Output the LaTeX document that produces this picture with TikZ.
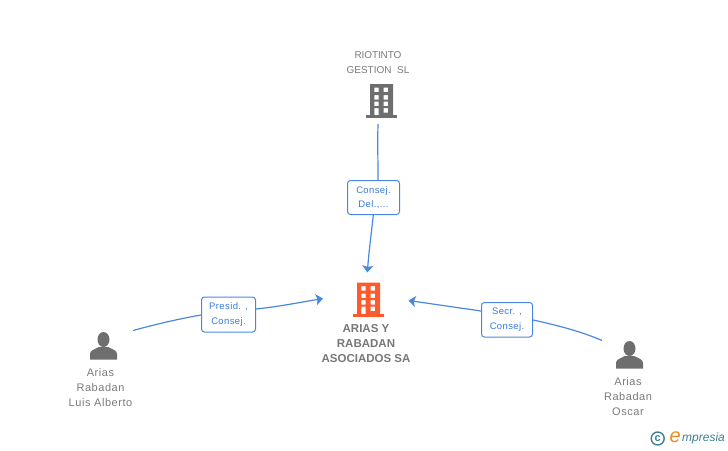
\documentclass[tikz,border=0pt]{standalone}
\usepackage{fontspec}
\setmainfont{Liberation Sans}
\usetikzlibrary{arrows.meta,bending}
\definecolor{greyicon}{HTML}{6E6E6E}
\definecolor{orangeicon}{HTML}{FF5A2C}
\definecolor{linkblue}{HTML}{4A88E0}
\definecolor{labelblue}{HTML}{3A7BD8}
\definecolor{nametext}{HTML}{7A7A7A}
\definecolor{boldtext}{HTML}{777777}
\definecolor{logoteal}{HTML}{3F7F95}
\definecolor{logoorange}{HTML}{F08A1E}
\tikzset{
  x=1pt,y=-1pt,
  rolebox/.style={draw=linkblue,line width=1pt,rounded corners=3pt,fill=white,anchor=north west,inner sep=0pt,
    font=\fontsize{9.5}{15}\selectfont\addfontfeatures{LetterSpace=4},text=labelblue,align=center},
  link/.style={draw=linkblue,line width=1.2pt},
  arrowlink/.style={link,-{Stealth[length=7pt,width=11pt,inset=1.5pt,flex=0]}},
  personname/.style={font=\fontsize{11}{15}\selectfont\addfontfeatures{LetterSpace=5},text=nametext,align=center,inner sep=0pt},
  companyname/.style={font=\fontsize{10}{15}\selectfont,text=nametext,align=center,inner sep=0pt},
  centername/.style={font=\fontsize{11.5}{15}\selectfont\bfseries,text=boldtext,align=center,inner sep=0pt},
  building/.pic={
    \fill[pic actions,even odd rule] (0,0) rectangle (23,33)
      (4.3,3.7) rectangle (8.7,8) (13.5,3.7) rectangle (18,8)
      (4.3,11) rectangle (8.7,15.5) (13.5,11) rectangle (18,15.5)
      (4.3,17.5) rectangle (8.7,22) (13.5,17.5) rectangle (18,22)
      (4.3,24) rectangle (8.7,32) (13.5,24) rectangle (18,28.5);
    \fill[pic actions] (-4,31) rectangle (27,34.2);
  },
  person/.pic={
    \fill[pic actions] (13.5,7.5) ellipse (6 and 7.5);
    \fill[pic actions] (0,27.5) -- (0,22) .. controls (0,18.5) and (4,17.5) .. (9,15)
      -- (18,15) .. controls (23,17.5) and (27,18.5) .. (27,22) -- (27,27.5) -- cycle;
  }
}
\begin{document}
\begin{tikzpicture}
\useasboundingbox (0,0) rectangle (728,450);
% icons
\pic[greyicon,fill=greyicon] at (370,84) {building};
\pic[orangeicon,fill=orangeicon] at (357,282.5) {building};
\pic[greyicon,fill=greyicon] at (90,332) {person};
\pic[greyicon,fill=greyicon] at (616,341) {person};
% names
\node[companyname] (riotinto) at (378,63) {\addfontfeatures{LetterSpace=-1}RIOTINTO\\GESTION\ \ SL};
\node[centername] (arias) at (366,343.5) {ARIAS Y\\RABADAN\\ASOCIADOS SA};
\node[personname] (luis) at (100.5,388) {Arias\\Rabadan\\Luis Alberto};
\node[personname] (oscar) at (628,396.5) {Arias\\Rabadan\\Oscar};
% role boxes
\node[rolebox,minimum width=52pt,minimum height=34pt] (r1) at (347,180) {Consej.\\[-0.5pt]Del.,...};
\node[rolebox,minimum width=54pt,minimum height=35pt] (r2) at (201,296.5) {Presid. ,\\[-0.5pt]Consej.};
\node[rolebox,minimum width=51pt,minimum height=34.5pt] (r3) at (481,302) {Secr. ,\\[-0.5pt]Consej.};
% connector ends
\coordinate (s1) at (378,124);
\coordinate (t1) at (367.3,272.5);
\coordinate (s2) at (133,330.5);
\coordinate (t2) at (323,298.5);
\coordinate (s3) at (602,340.5);
\coordinate (t3) at (408.5,300.5);
\draw[link] (s1) .. controls (377.5,140) and (378,160) .. (r1.north -| 378,0);
\draw[arrowlink] (r1.south -| 373.3,0) .. controls (371.5,232) and (369,250) .. (t1);
\draw[link] (s2) .. controls (155,324.5) and (178,319) .. (r2.west |- 0,315);
\draw[arrowlink] (r2.east |- 0,309) .. controls (280,306.5) and (302,302) .. (t2);
\draw[link] (s3) .. controls (580,331) and (556,325) .. (r3.east |- 0,320);
\draw[arrowlink] (r3.west |- 0,311) .. controls (460,308) and (433,304) .. (t3);
% logo
\node[draw=logoteal,line width=1.4pt,circle,minimum size=13pt,inner sep=0pt,text=logoteal,font=\fontsize{11}{11}\selectfont\bfseries] (copyr) at (657.7,438.5) {c};
\node[inner sep=0pt,anchor=east,text=logoorange,font=\fontsize{20}{20}\selectfont\itshape] (logoe) at (681,437) {e};
\node[inner sep=0pt,anchor=west,text=logoteal,font=\fontsize{12}{12}\selectfont\itshape] (logotext) at (682,438.5) {mpresia};
\end{tikzpicture}
\end{document}
